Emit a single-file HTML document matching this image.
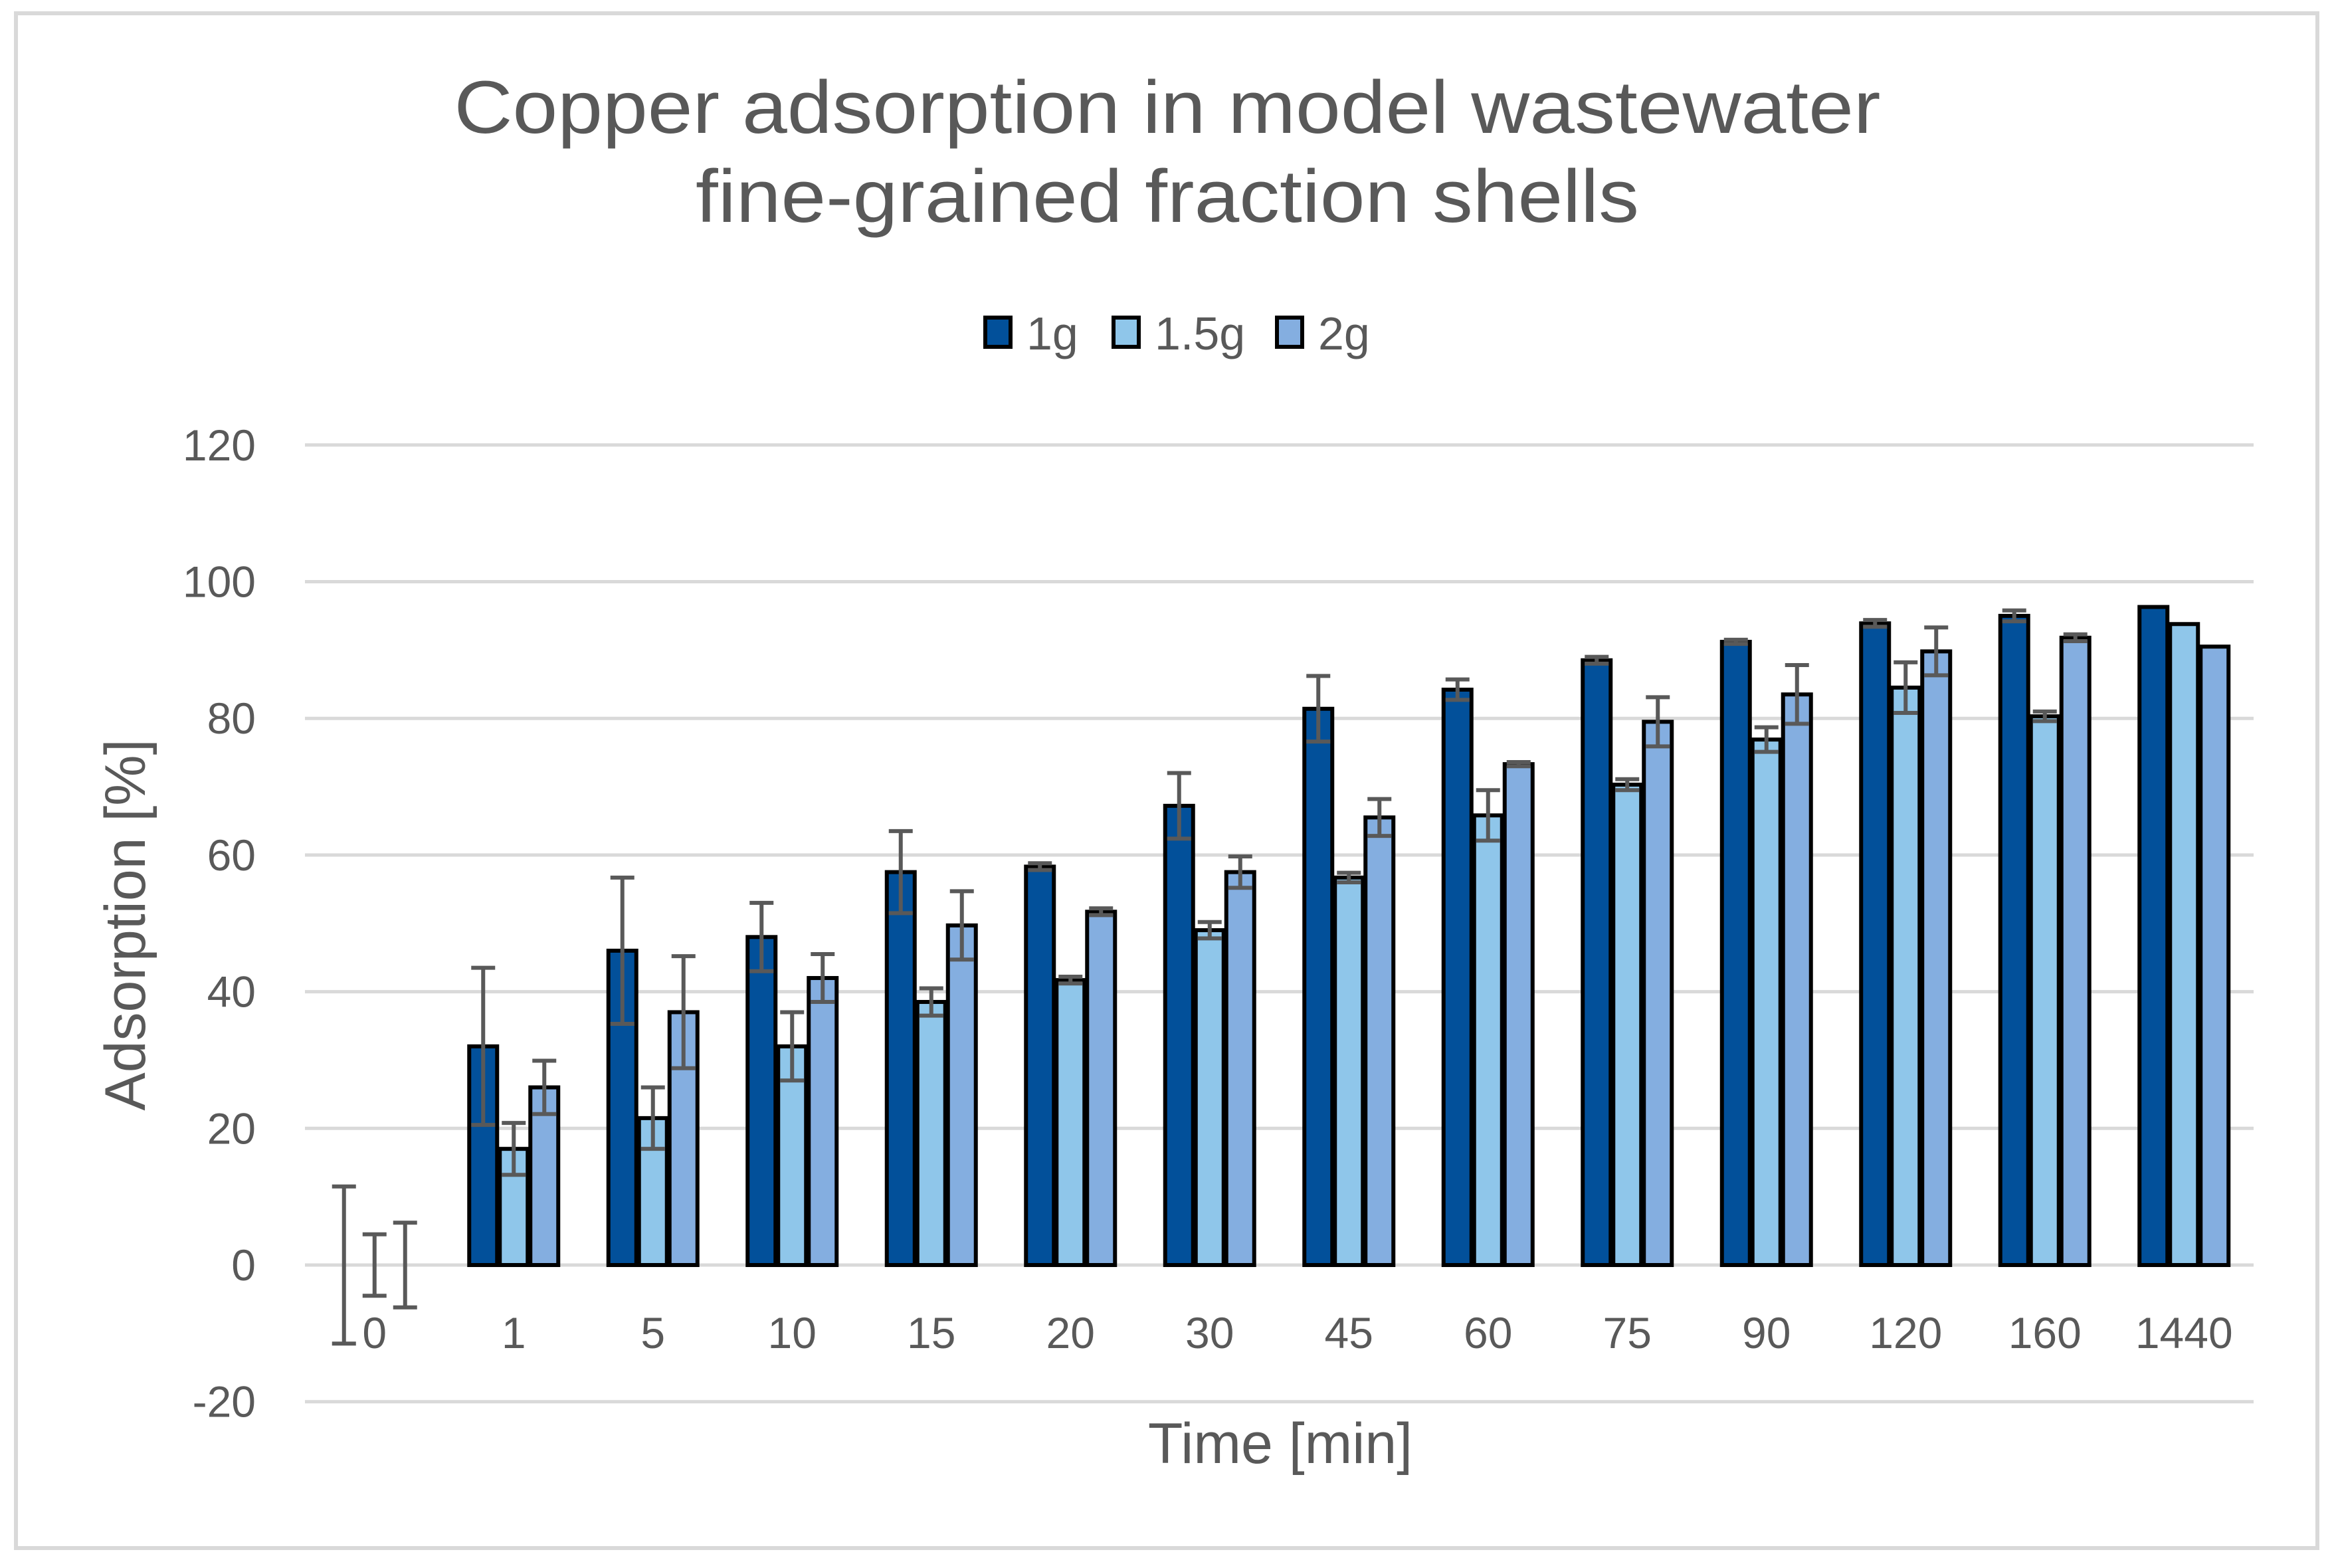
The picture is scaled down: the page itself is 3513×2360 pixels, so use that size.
<!DOCTYPE html>
<html><head><meta charset="utf-8"><style>
html,body{margin:0;padding:0;background:#fff;}
svg{display:block;font-family:"Liberation Sans",sans-serif;}
</style></head><body>
<svg id="chart" width="3513" height="2360" viewBox="0 0 3513 2360" xmlns="http://www.w3.org/2000/svg">
<rect x="24" y="20" width="3464" height="2310" fill="#fff" stroke="#d9d9d9" stroke-width="6"/>
<text x="1757" y="200" text-anchor="middle" font-size="112" fill="#595959" textLength="2147" lengthAdjust="spacingAndGlyphs">Copper adsorption in model wastewater</text>
<text x="1757" y="334" text-anchor="middle" font-size="112" fill="#595959" textLength="1420" lengthAdjust="spacingAndGlyphs">fine-grained fraction shells</text>
<g id="grid"></g>
<g id="bars"></g>
<g id="errs"></g>
<g id="labels"></g>
<g id="legend"></g>
<text transform="translate(218,1392) rotate(-90)" text-anchor="middle" font-size="86" fill="#595959">Adsorption [%]</text>
<text x="1927" y="2202" text-anchor="middle" font-size="86" fill="#595959">Time [min]</text>
</svg>
<script>
const categories = ["0","1","5","10","15","20","30","45","60","75","90","120","160","1440"];
const seriesNames = ["1g","1.5g","2g"];
const values1g = [0,32,46,48,57.5,58.3,67.2,81.4,84.2,88.5,91.2,93.9,95,96.3];
const values15g = [0,17,21.5,32,38.5,41.7,49,56.7,65.8,70.3,76.9,84.5,80.3,93.8];
const values2g = [0,26,37,42,49.7,51.7,57.5,65.5,73.3,79.5,83.5,89.8,91.8,90.5];
const err1g = [11.5,11.5,10.7,5,6,0.5,4.8,4.8,1.5,0.5,0.3,0.5,0.8,0];
const err15g = [4.5,3.8,4.5,5,2,0.5,1.2,0.7,3.7,0.8,1.8,3.7,0.7,0];
const err2g = [6.2,3.9,8.2,3.5,5,0.5,2.3,2.7,0.3,3.6,4.3,3.5,0.5,0];
const yTicks = [-20,0,20,40,60,80,100,120];

const colors = ["#02509a","#8fc6ea","#84aee0"];
const NS = "http://www.w3.org/2000/svg";
const X0 = 459, X1 = 3392, Y0val = 1904, pxPer = 205.7/20;
const bw = (X1 - X0) / categories.length;
function y(v){ return Y0val - v * pxPer; }
function xc(i){ return X0 + bw * (i + 0.5); }
const barW = 42, gap = 4;
function bx(i, s){ return xc(i) + (s - 1) * (barW + gap) - barW/2; }
function mk(tag, attrs, parent){ const e = document.createElementNS(NS, tag); for (const k in attrs) e.setAttribute(k, attrs[k]); parent.appendChild(e); return e; }

const grid = document.getElementById('grid');
const labels = document.getElementById('labels');
yTicks.forEach(t => {
  const l = mk('line', {x1:X0, x2:X1, y1:y(t), y2:y(t), stroke:'#d9d9d9', 'stroke-width':5}, grid);
  
  
  const tx = mk('text', {x:385, y:y(t)+23, 'text-anchor':'end', 'font-size':66, fill:'#595959'}, labels);
  tx.textContent = t;
  
  
});
categories.forEach((c, i) => {
  const tx = mk('text', {x:xc(i), y:2029, 'text-anchor':'middle', 'font-size':66, fill:'#595959'}, labels);
  tx.textContent = c;
  
  
});

const bars = document.getElementById('bars');
const errs = document.getElementById('errs');
const allVals = [values1g, values15g, values2g];
const allErr = [err1g, err15g, err2g];
allVals.forEach((vals, s) => {
  vals.forEach((v, i) => {
    if (v > 0) {
      const r = mk('rect', {x:bx(i,s), y:y(v), width:barW, height:y(0)-y(v), fill:colors[s], stroke:'#000', 'stroke-width':6}, bars);
      
      
    }
    const e = allErr[s][i];
    if (e > 0) {
      const cx = bx(i,s) + barW/2;
      const g = mk('g', {stroke:'#595959', 'stroke-width':6}, errs);
      
      
      mk('line', {x1:cx, x2:cx, y1:y(v+e), y2:y(v-e)}, g);
      mk('line', {x1:cx-18, x2:cx+18, y1:y(v+e), y2:y(v+e)}, g);
      mk('line', {x1:cx-18, x2:cx+18, y1:y(v-e), y2:y(v-e)}, g);
    }
  });
});

const legend = document.getElementById('legend');
const legX = [1483, 1676, 1922];
seriesNames.forEach((n, s) => {
  const g = mk('g', {}, legend);
  
  
  mk('rect', {x:legX[s], y:478, width:38, height:44, fill:colors[s], stroke:'#000', 'stroke-width':6}, g);
  const t = mk('text', {x:legX[s]+62, y:526, 'font-size':70, fill:'#595959'}, g);
  t.textContent = n;
});
</script>
</body></html>
